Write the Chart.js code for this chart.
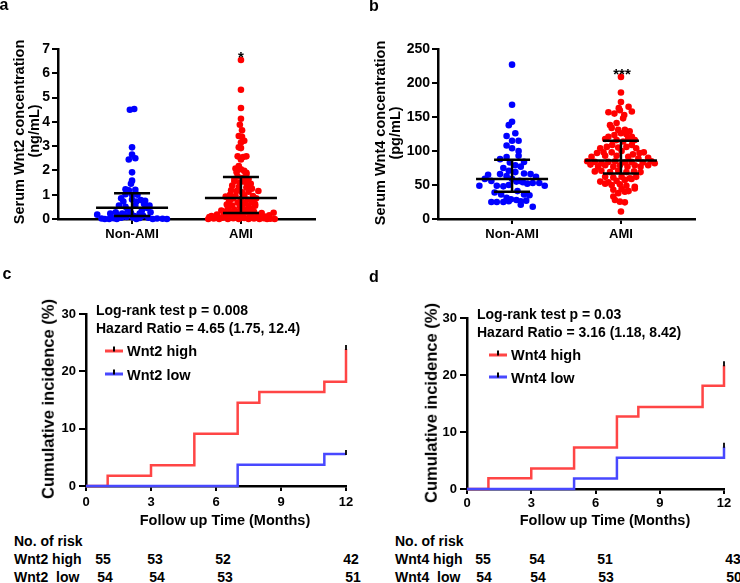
<!DOCTYPE html>
<html>
<head>
<meta charset="utf-8">
<script src="https://cdn.jsdelivr.net/npm/chart.js@4.4.1/dist/chart.umd.min.js"></script>
<style>
  body { margin: 0; width: 740px; height: 583px; background: #fff; position: relative; overflow: hidden;
         font-family: "Liberation Sans", Arial, sans-serif; font-weight: bold; color: #000; }
  canvas { position: absolute; }
  .t { position: absolute; white-space: pre; line-height: 1; }
  .c { transform: translate(-50%, -50%); }
  .l { transform: translate(0, -50%); }
  .r { transform: translate(-50%, -50%) rotate(-90deg); }
  .key { position: absolute; height: 3px; width: 18px; transform: translate(0, -50%); }
  .key::after { content: ''; position: absolute; left: 8px; top: -3px; width: 2px; height: 5px; background: #000; }
</style>
</head>
<body>
<canvas id="chartA" width="370" height="250" style="left:0;top:0"></canvas>
<canvas id="chartB" width="370" height="250" style="left:370px;top:0"></canvas>
<canvas id="chartC" width="370" height="270" style="left:0;top:260px"></canvas>
<canvas id="chartD" width="370" height="270" style="left:370px;top:260px"></canvas>
<div id="overlay"></div>
<script>
const groups = ['Non-AMI', 'AMI'];

// panel a: serum Wnt2 (ng/mL), each point is [jitter, value]
const wnt2NonAmi = [
  [-0.02, 4.5], [0.02, 4.53], [0.0, 2.95], [0.0, 2.65], [-0.03, 2.45], [0.03, 2.5], [0.0, 1.92], [0.0, 1.58], [-0.01, 1.45],
  [-0.06, 1.22], [-0.03, 1.18], [0.03, 1.2], [0.05, 1.0], [-0.06, 1.02], [0.0, 1.0],
  [-0.1, 0.85], [0.0, 0.8], [0.08, 0.78], [-0.08, 0.72], [0.04, 0.72], [0.12, 0.75], [0.11, 0.62],
  [-0.12, 0.55], [-0.06, 0.5], [0.03, 0.55], [0.16, 0.55], [0.14, 0.45], [0.09, 0.35], [-0.04, 0.38],
  [-0.32, 0.18], [-0.2, 0.22], [-0.15, 0.28], [-0.09, 0.22], [-0.01, 0.25], [0.07, 0.22], [0.17, 0.28],
  [-0.12, 0.12], [-0.06, 0.15], [0.02, 0.12], [0.1, 0.14],
  [-0.28, 0.02], [-0.25, 0.0], [-0.17, 0.03], [-0.1, 0.05], [-0.05, 0.08], [0.01, 0.06], [0.07, 0.04],
  [0.15, 0.05], [0.19, 0.0], [0.23, 0.02], [0.28, 0.01], [0.32, 0.0], [-0.21, 0.0], [0.04, 0.0], [-0.14, 0.0]
];
const wnt2Ami = [
  [0, 6.55], [0, 5.32], [0, 4.57], [0, 4.13], [-0.01, 3.88], [0.01, 3.65], [-0.02, 3.42], [0.01, 3.38], [0.03, 3.22],
  [0.0, 3.15], [-0.02, 2.95], [0.0, 2.92], [-0.03, 2.58], [0.02, 2.55], [0.05, 2.58], [0.0, 2.45],
  [-0.02, 2.18], [0.0, 2.05], [0.03, 1.98], [-0.04, 1.92], [0.05, 1.85], [-0.03, 1.75], [0.02, 1.7], [0.07, 1.65],
  [-0.06, 1.55], [-0.01, 1.5], [0.04, 1.52], [0.09, 1.45], [-0.08, 1.38], [-0.02, 1.32], [0.05, 1.3], [0.1, 1.25],
  [-0.09, 1.18], [-0.04, 1.15], [0.01, 1.1], [0.07, 1.12], [-0.1, 1.0], [-0.05, 0.95], [0.03, 0.98], [0.11, 0.95],
  [-0.07, 0.85], [0.0, 0.82], [0.06, 0.8], [-0.11, 0.72], [-0.03, 0.68], [0.04, 0.66], [0.1, 0.7],
  [-0.08, 0.55], [-0.01, 0.52], [0.07, 0.55], [-0.12, 0.45], [0.02, 0.42], [0.1, 0.42],
  [-0.15, 0.3], [-0.09, 0.28], [-0.03, 0.3], [0.04, 0.28], [0.12, 0.3], [0.19, 0.25], [0.3, 0.26],
  [-0.22, 0.18], [-0.16, 0.15], [-0.05, 0.16], [0.08, 0.15], [0.15, 0.14], [-0.1, 0.1], [0.01, 0.08],
  [-0.29, 0.08], [-0.3, 0.0], [-0.25, 0.02], [-0.2, 0.0], [-0.17, 0.05], [-0.12, 0.0], [-0.07, 0.03], [-0.02, 0.0],
  [0.03, 0.04], [0.07, 0.0], [0.12, 0.02], [0.17, 0.0], [0.21, 0.03], [0.24, 0.0], [0.27, 0.01], [0.31, 0.0],
  [-0.27, 0.12], [0.22, 0.1], [0.14, 0.85], [-0.13, 0.6], [0.13, 0.55], [-0.06, 0.38], [0.06, 0.35], [-0.14, 0.92],
  [0.08, 1.4], [-0.06, 1.65], [0.16, 1.15], [-0.01, 0.22], [0.09, 0.22], [-0.18, 0.35], [0.15, 0.05], [-0.14, 0.2],
  [0.2, 0.08], [0.0, 0.6], [-0.08, 0.05], [0.26, 0.15], [0.05, 1.9], [-0.05, 2.08], [0.1, 0.05], [-0.24, 0.06],
  [0.13, 0.62], [-0.1, 0.78]
];
const wnt2Q1 = [0.12, 0.25];
const wnt2Median = [0.46, 0.86];
const wnt2Q3 = [1.06, 1.73];

// panel b: serum Wnt4 (pg/mL)
const wnt4NonAmi = [
  [0.0, 227], [0.0, 168], [0.0, 143], [-0.03, 138], [0.03, 126], [-0.05, 122], [0.0, 115], [0.06, 115], [-0.05, 108],
  [0.0, 104], [0.06, 100], [-0.05, 91], [0.06, 93], [-0.11, 88], [0.11, 84], [-0.02, 83], [0.03, 79], [0.08, 77],
  [-0.08, 75], [-0.03, 71], [0.03, 69], [-0.22, 65], [-0.11, 66], [-0.05, 63], [0.11, 67], [0.17, 66], [0.22, 62],
  [-0.25, 59], [-0.19, 56], [0.0, 59], [0.07, 56], [0.14, 52], [0.19, 53], [0.25, 53], [0.3, 49], [-0.3, 49],
  [-0.14, 49], [-0.08, 48], [-0.03, 50], [0.04, 55], [0.1, 54], [-0.16, 39], [-0.1, 36], [0.05, 41], [0.11, 36],
  [0.16, 35], [-0.05, 31], [-0.01, 29], [0.04, 28], [0.08, 26], [0.13, 27], [-0.19, 25], [-0.14, 25], [-0.08, 25],
  [-0.03, 26], [0.08, 21], [0.19, 18]
];
const wnt4Ami = [
  [0, 209], [0, 186], [0, 172], [-0.02, 163], [0.07, 165], [0.1, 158],
  [-0.115, 157], [-0.06, 155], [-0.01, 160], [0.03, 153], [0.02, 148],
  [-0.1, 138], [-0.04, 141], [-0.025, 131], [0.036, 131], [0.08, 129], [-0.085, 134],
  [-0.115, 121], [-0.06, 123.5], [0.0, 126], [0.05, 124.5], [0.1, 121], [0.127, 116], [-0.145, 117.6], [-0.04, 116],
  [0.02, 114], [0.067, 118.6],
  [-0.19, 104], [-0.13, 106], [-0.08, 109], [-0.025, 105], [0.05, 106], [0.1, 109], [0.14, 104],
  [-0.22, 97], [-0.16, 98], [-0.085, 98], [0.006, 100], [0.11, 95], [0.17, 97], [0.21, 98],
  [-0.27, 91.5], [-0.145, 93], [-0.04, 93], [0.067, 91.5], [0.16, 89], [0.25, 90],
  [-0.31, 85], [-0.24, 84], [-0.18, 82], [-0.115, 84], [-0.055, 85], [0.036, 83], [0.097, 84], [0.2, 83], [0.28, 85], [0.31, 82],
  [-0.28, 80], [-0.21, 77], [-0.145, 79], [-0.07, 77], [-0.01, 79], [0.06, 77], [0.127, 79], [0.18, 77], [0.25, 79],
  [-0.24, 70], [-0.18, 71], [-0.1, 69], [-0.025, 71], [0.05, 69], [0.12, 70], [0.18, 69],
  [-0.145, 62], [-0.07, 61], [0.006, 62], [0.08, 60], [0.14, 62],
  [-0.19, 55], [-0.115, 54], [-0.04, 56], [0.036, 57.5], [0.097, 59],
  [-0.145, 52], [-0.085, 50], [-0.01, 51], [0.05, 49], [0.127, 47.5],
  [-0.07, 43], [0.006, 44], [0.07, 41], [0.127, 45], [-0.025, 38], [0.036, 40],
  [-0.07, 33], [-0.055, 28], [-0.01, 25.5], [0.036, 24.5], [0.0, 11]
];
const wnt4Q1 = [40, 67];
const wnt4Median = [59, 86];
const wnt4Q3 = [87, 115];

// panels c/d: cumulative incidence (%) by month
const monthTicks = [0, 3, 6, 9, 12];
const wnt2HighMonths = [0, 1, 3, 5, 7, 8, 11, 12];
const wnt2HighIncidence = [0, 1.8, 3.6, 9.1, 14.5, 16.4, 18.2, 23.9];
const wnt2LowMonths = [0, 7, 11, 12];
const wnt2LowIncidence = [0, 3.7, 5.6, 5.6];
const wnt4HighMonths = [0, 1, 3, 5, 7, 8, 11, 12];
const wnt4HighIncidence = [0, 1.9, 3.6, 7.3, 12.7, 14.4, 18.1, 21.7];
const wnt4LowMonths = [0, 5, 7, 12];
const wnt4LowIncidence = [0, 1.85, 5.5, 7.4];

const wnt2HighRisk = [55, 53, 52, 42];
const wnt2LowRisk = [54, 54, 53, 51];
const wnt4HighRisk = [55, 54, 51, 43];
const wnt4LowRisk = [54, 54, 53, 50];

const RED = '#ff0000';
const BLUE = '#0000ff';
const KM_RED = '#ff4545';
const KM_BLUE = '#4848ff';

Chart.defaults.font.family = '"Liberation Sans", Arial, sans-serif';
Chart.defaults.font.weight = 'bold';
Chart.defaults.color = '#000';

const summaryBars = {
    id: 'summaryBars',
    afterDatasetsDraw(chart, args, opts) {
        const { ctx, scales: { x, y } } = chart;
        ctx.save();
        ctx.strokeStyle = '#000';
        ctx.lineWidth = 2.5;
        opts.median.forEach((m, i) => {
            const cx = x.getPixelForValue(i);
            const lo = y.getPixelForValue(opts.q1[i]);
            const hi = y.getPixelForValue(opts.q3[i]);
            const mid = y.getPixelForValue(m);
            ctx.beginPath();
            ctx.moveTo(cx - 36, mid); ctx.lineTo(cx + 36, mid);
            ctx.moveTo(cx - 18, hi); ctx.lineTo(cx + 18, hi);
            ctx.moveTo(cx - 18, lo); ctx.lineTo(cx + 18, lo);
            ctx.moveTo(cx, lo); ctx.lineTo(cx, hi);
            ctx.stroke();
        });
        ctx.restore();
    }
};

const censorTicks = {
    id: 'censorTicks',
    afterDatasetsDraw(chart) {
        const ctx = chart.ctx;
        ctx.save();
        ctx.strokeStyle = '#000';
        ctx.lineWidth = 1.8;
        chart.data.datasets.forEach((ds, i) => {
            const pts = chart.getDatasetMeta(i).data;
            const last = pts[pts.length - 1];
            ctx.beginPath();
            ctx.moveTo(last.x, last.y - 4);
            ctx.lineTo(last.x, last.y + 1);
            ctx.stroke();
        });
        ctx.restore();
    }
};

function axisStyle(tickLength, fontSize, pad) {
    return {
        grid: { drawOnChartArea: false, drawTicks: true, tickLength: tickLength, color: '#000', lineWidth: 2 },
        border: { display: true, width: 2.5, color: '#000' },
        ticks: { color: '#000', padding: pad, font: { size: fontSize, weight: 'bold' } }
    };
}

function makeScatter(id, nonAmi, ami, q1, median, q3, yMax, yStep, box) {
    const xAxis = axisStyle(5, 13, 3);
    const yAxis = axisStyle(6, 14, 2);
    return new Chart(document.getElementById(id), {
        type: 'scatter',
        data: {
            datasets: [
                { data: nonAmi.map(p => ({ x: p[0], y: p[1] })), backgroundColor: BLUE, borderWidth: 0, pointRadius: 3.3, clip: false },
                { data: ami.map(p => ({ x: 1 + p[0], y: p[1] })), backgroundColor: RED, borderWidth: 0, pointRadius: 3.3, clip: false }
            ]
        },
        options: {
            responsive: false,
            animation: false,
            layout: { padding: { top: box.top, right: box.right, left: 0, bottom: 0 } },
            plugins: {
                legend: { display: false },
                tooltip: { enabled: false },
                summaryBars: { q1, median, q3 }
            },
            scales: {
                x: {
                    type: 'linear', min: -0.68, max: 1.68,
                    afterBuildTicks: s => { s.ticks = [{ value: 0 }, { value: 1 }]; },
                    afterFit: s => { s.height = box.xHeight; s.paddingLeft = 0; s.paddingRight = 0; },
                    ...xAxis,
                    ticks: { ...xAxis.ticks, callback: (v, i) => groups[i] }
                },
                y: {
                    min: 0, max: yMax,
                    afterFit: s => { s.width = box.yWidth; s.paddingTop = 0; s.paddingBottom = 0; },
                    ...yAxis,
                    ticks: { ...yAxis.ticks, stepSize: yStep }
                }
            }
        },
        plugins: [summaryBars]
    });
}

function kmSeries(months, values, color) {
    return {
        data: months.map((m, i) => ({ x: m, y: values[i] })),
        borderColor: color, borderWidth: 2.5, pointRadius: 0,
        stepped: 'before', fill: false, clip: false
    };
}

function makeKm(id, high, low, box) {
    const xAxis = axisStyle(5, 13, box.xPad);
    const yAxis = axisStyle(7, 13, 3);
    return new Chart(document.getElementById(id), {
        type: 'line',
        data: { datasets: [low, high] },
        options: {
            responsive: false,
            animation: false,
            layout: { padding: { top: box.top, right: box.right, left: 0, bottom: 0 } },
            plugins: { legend: { display: false }, tooltip: { enabled: false } },
            scales: {
                x: {
                    type: 'linear', min: 0, max: 12,
                    afterBuildTicks: s => { s.ticks = monthTicks.map(v => ({ value: v })); },
                    afterFit: s => { s.height = box.xHeight; s.paddingLeft = 0; s.paddingRight = 0; },
                    ...xAxis
                },
                y: {
                    min: 0, max: 30,
                    afterFit: s => { s.width = box.yWidth; s.paddingTop = 0; s.paddingBottom = 0; },
                    ...yAxis,
                    ticks: { ...yAxis.ticks, stepSize: 10 }
                }
            }
        },
        plugins: [censorTicks]
    });
}

makeScatter('chartA', wnt2NonAmi, wnt2Ami, wnt2Q1, wnt2Median, wnt2Q3, 7, 1,
    { top: 49, right: 55, yWidth: 58, xHeight: 31 });
makeScatter('chartB', wnt4NonAmi, wnt4Ami, wnt4Q1, wnt4Median, wnt4Q3, 250, 50,
    { top: 49, right: 45, yWidth: 68, xHeight: 31 });
makeKm('chartC', kmSeries(wnt2HighMonths, wnt2HighIncidence, KM_RED), kmSeries(wnt2LowMonths, wnt2LowIncidence, KM_BLUE),
    { top: 54, right: 24, yWidth: 86, xHeight: 44, xPad: 4 });
makeKm('chartD', kmSeries(wnt4HighMonths, wnt4HighIncidence, KM_RED), kmSeries(wnt4LowMonths, wnt4LowIncidence, KM_BLUE),
    { top: 58, right: 16, yWidth: 97, xHeight: 41, xPad: 2 });

// text overlays
const overlay = document.getElementById('overlay');
function addText(text, x, y, cls, size) {
    const el = document.createElement('div');
    el.className = 't ' + cls;
    el.textContent = text;
    el.style.left = x + 'px';
    el.style.top = y + 'px';
    el.style.fontSize = size + 'px';
    overlay.appendChild(el);
}
function addKey(color, x, y) {
    const el = document.createElement('div');
    el.className = 'key';
    el.style.background = color;
    el.style.left = x + 'px';
    el.style.top = y + 'px';
    overlay.appendChild(el);
}

addText('a', 4, 5, 'c', 16);
addText('b', 374, 6, 'c', 16);
addText('c', 7, 274, 'c', 16);
addText('d', 374, 277, 'c', 16);

addText('Serum Wnt2 concentration', 19, 132, 'r', 14.5);
addText('(ng/mL)', 34, 131, 'r', 14.5);
addText('Serum Wnt4 concentration', 380, 133, 'r', 14.5);
addText('(pg/mL)', 395, 133, 'r', 14.5);
addText('*', 241, 56, 'c', 15);
addText('***', 622, 73, 'c', 15);

addText('Cumulative incidence (%)', 48, 399, 'r', 16.5);
addText('Cumulative incidence (%)', 431, 403, 'r', 16.5);
addText('Follow up Time (Months)', 225, 520, 'c', 14.5);
addText('Follow up Time (Months)', 605, 520, 'c', 14.5);

addText('Log-rank test p = 0.008', 96, 310, 'l', 14);
addText('Hazard Ratio = 4.65 (1.75, 12.4)', 96, 328, 'l', 14);
addText('Log-rank test p = 0.03', 477, 314, 'l', 14);
addText('Hazard Ratio = 3.16 (1.18, 8.42)', 477, 332, 'l', 14);

addKey(KM_RED, 105, 351);
addText('Wnt2 high', 127, 351, 'l', 14.5);
addKey(KM_BLUE, 105, 374);
addText('Wnt2 low', 127, 375, 'l', 14.5);
addKey(KM_RED, 489, 355);
addText('Wnt4 high', 511, 355, 'l', 14.5);
addKey(KM_BLUE, 489, 377);
addText('Wnt4 low', 511, 378, 'l', 14.5);

// number at risk tables
const riskColsC = [103, 155, 223, 351];
const riskColsD = [483, 537, 605, 733];
addText('No. of risk', 14, 541, 'l', 14);
addText('Wnt2 high', 14, 559, 'l', 14);
addText('Wnt2  low', 14, 577, 'l', 14);
addText('No. of risk', 395, 541, 'l', 14);
addText('Wnt4 high', 395, 559, 'l', 14);
addText('Wnt4  low', 395, 577, 'l', 14);
wnt2HighRisk.forEach((n, i) => addText(String(n), riskColsC[i], 559, 'c', 14));
wnt2LowRisk.forEach((n, i) => addText(String(n), riskColsC[i] + 2, 577, 'c', 14));
wnt4HighRisk.forEach((n, i) => addText(String(n), riskColsD[i], 559, 'c', 14));
wnt4LowRisk.forEach((n, i) => addText(String(n), riskColsD[i] + 1, 577, 'c', 14));
</script>
</body>
</html>
